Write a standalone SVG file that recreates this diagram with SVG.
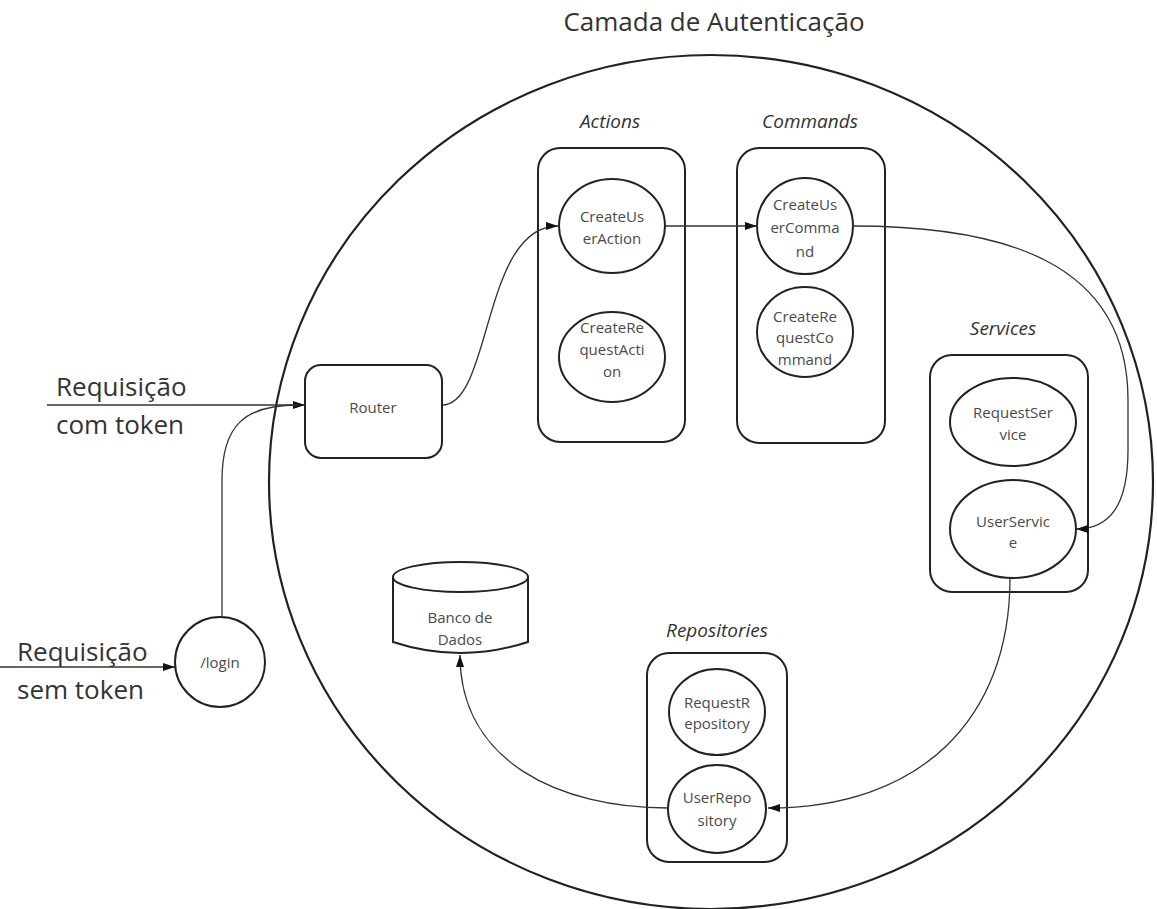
<svg xmlns="http://www.w3.org/2000/svg" width="1157" height="909" viewBox="0 0 1157 909">
  <style>
    .shape { fill: #fff; stroke: #222; stroke-width: 2; }
    .layer { fill: none; stroke: #222; stroke-width: 2.2; }
    .edge { fill: none; stroke: #333; stroke-width: 1.3; }
    .lbl { font-family: "Open Sans", "Noto Sans", sans-serif; font-size: 15px; fill: #4a4a4a; text-anchor: middle; }
    .grp { font-family: "Open Sans", "Noto Sans", sans-serif; font-size: 19px; font-style: italic; fill: #333; text-anchor: middle; }
    .big { font-family: "Open Sans", "Noto Sans", sans-serif; font-size: 26px; fill: #333; }
  </style>
  <defs>
    <marker id="arrow" viewBox="0 0 12 8" refX="12" refY="4" markerWidth="12" markerHeight="8" markerUnits="userSpaceOnUse" orient="auto">
      <path d="M0,0 L12,4 L0,8 Z" fill="#111"/>
    </marker>
  </defs>
  <rect width="1157" height="909" fill="#fff"/>

  <!-- authentication layer boundary -->
  <g id="auth-layer">
    <ellipse class="layer" cx="711" cy="482" rx="442" ry="427"/>
    <text class="big" x="714" y="31" text-anchor="middle">Camada de Autenticação</text>
  </g>

  <!-- incoming request labels -->
  <g id="req-token">
    <text class="big" x="56" y="396">Requisição</text>
    <text class="big" x="56" y="434">com token</text>
  </g>
  <g id="req-notoken">
    <text class="big" x="17" y="661">Requisição</text>
    <text class="big" x="17" y="699">sem token</text>
  </g>

  <g id="login">
    <circle class="shape" cx="220" cy="662" r="45"/>
    <text class="lbl" x="220" y="668">/login</text>
  </g>

  <g id="router">
    <rect class="shape" x="305" y="365" width="137" height="93" rx="16"/>
    <text class="lbl" x="373" y="413">Router</text>
  </g>

  <g id="actions">
    <text class="grp" x="610" y="128">Actions</text>
    <rect class="shape" x="538" y="148" width="147" height="294" rx="22"/>
  </g>
  <g id="create-user-action">
    <ellipse class="shape" cx="612" cy="226" rx="53" ry="47"/>
    <text class="lbl" x="612" y="222">CreateUs</text>
    <text class="lbl" x="612" y="244">erAction</text>
  </g>
  <g id="create-request-action">
    <ellipse class="shape" cx="612" cy="357" rx="53" ry="45"/>
    <text class="lbl" x="612" y="333">CreateRe</text>
    <text class="lbl" x="612" y="355">questActi</text>
    <text class="lbl" x="612" y="377">on</text>
  </g>

  <g id="commands">
    <text class="grp" x="810" y="128">Commands</text>
    <rect class="shape" x="737" y="148" width="148" height="295" rx="22"/>
  </g>
  <g id="create-user-command">
    <ellipse class="shape" cx="805" cy="226" rx="48" ry="48"/>
    <text class="lbl" x="805" y="210">CreateUs</text>
    <text class="lbl" x="805" y="233">erComma</text>
    <text class="lbl" x="805" y="257">nd</text>
  </g>
  <g id="create-request-command">
    <ellipse class="shape" cx="805" cy="332" rx="48" ry="45"/>
    <text class="lbl" x="805" y="322">CreateRe</text>
    <text class="lbl" x="805" y="343">questCo</text>
    <text class="lbl" x="805" y="365">mmand</text>
  </g>

  <g id="services">
    <text class="grp" x="1003" y="335">Services</text>
    <rect class="shape" x="930" y="355" width="158" height="237" rx="22"/>
  </g>
  <g id="request-service">
    <ellipse class="shape" cx="1013" cy="422" rx="63" ry="44"/>
    <text class="lbl" x="1013" y="418">RequestSer</text>
    <text class="lbl" x="1013" y="440">vice</text>
  </g>
  <g id="user-service">
    <ellipse class="shape" cx="1013" cy="529" rx="63" ry="49"/>
    <text class="lbl" x="1013" y="527">UserServic</text>
    <text class="lbl" x="1013" y="548">e</text>
  </g>

  <g id="repositories">
    <text class="grp" x="717" y="637">Repositories</text>
    <rect class="shape" x="647" y="653" width="140" height="209" rx="22"/>
  </g>
  <g id="request-repository">
    <ellipse class="shape" cx="717" cy="712" rx="48" ry="43"/>
    <text class="lbl" x="717" y="708">RequestR</text>
    <text class="lbl" x="717" y="729">epository</text>
  </g>
  <g id="user-repository">
    <ellipse class="shape" cx="717" cy="809" rx="49" ry="44"/>
    <text class="lbl" x="717" y="803">UserRepo</text>
    <text class="lbl" x="717" y="826">sitory</text>
  </g>

  <g id="database">
    <path class="shape" d="M393,577 L393,642 Q460,664 528,642 L528,577"/>
    <ellipse class="shape" cx="460.5" cy="577" rx="67.5" ry="15"/>
    <text class="lbl" x="460" y="623">Banco de</text>
    <text class="lbl" x="460" y="645">Dados</text>
  </g>

  <!-- connectors -->
  <g id="connectors">
    <path class="edge" d="M47,405 L305,405" marker-end="url(#arrow)"/>
    <path class="edge" d="M0,667 L175,667" marker-end="url(#arrow)"/>
    <path class="edge" d="M222,617 L222,480 C222,425 245,405 298,405"/>
    <path class="edge" d="M442,405 C492,405 482,226 558,226" marker-end="url(#arrow)"/>
    <path class="edge" d="M665,226 L757,226" marker-end="url(#arrow)"/>
    <path class="edge" d="M853,226 C1000,226 1128,260 1128,400 L1128,450 C1128,505 1110,529 1076,529" marker-end="url(#arrow)"/>
    <path class="edge" d="M1010,578 C1010,720 920,808 768,808" marker-end="url(#arrow)"/>
    <path class="edge" d="M668,808 C560,808 460,762 460,655" marker-end="url(#arrow)"/>
  </g>
</svg>
